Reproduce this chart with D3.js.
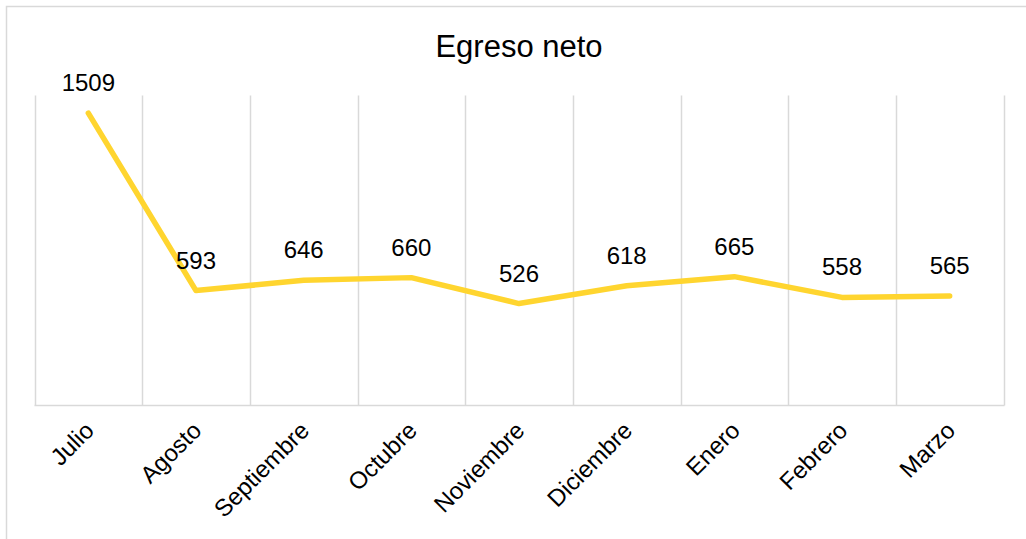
<!DOCTYPE html>
<html>
<head>
<meta charset="utf-8">
<script src="https://cdn.jsdelivr.net/npm/d3@7"></script>
<style>
	body { margin: 0; background: #ffffff; }
	text { font-family: "Liberation Sans", Arial, sans-serif; fill: #000000; }
</style>
</head>
<body>
<div></div>
<script>
const months = ["Julio", "Agosto", "Septiembre", "Octubre", "Noviembre", "Diciembre", "Enero", "Febrero", "Marzo"];
const egreso = [1509, 593, 646, 660, 526, 618, 665, 558, 565];
const title = "Egreso neto";

const width = 1026;
const height = 539;
const lineColor = "#ffd52f";
const gridColor = "#d9d9d9";

var svg = d3.select("div")
	.append("svg")
	.attr("width", width)
	.attr("height", height);

// chart frame, cut off at right and bottom like the original
svg.append("rect")
	.attr("x", 6.5)
	.attr("y", 6.5)
	.attr("width", 1030)
	.attr("height", 545)
	.style("fill", "none")
	.style("stroke", gridColor)
	.style("stroke-width", 1.5);

svg.append("text")
	.attr("x", 519)
	.attr("y", 57)
	.attr("text-anchor", "middle")
	.style("font-size", "31px")
	.text(title);

var x = d3.scaleBand()
	.domain(months)
	.range([34.5, 1003.5])
	.padding(0);

var y = d3.scaleLinear()
	.domain([0, 1600])
	.range([405.5, 95.5]);

// vertical grid lines on category edges
var edges = months.map(function (m) { return x(m); }).concat([x.range()[1]]);
svg.append("g")
	.attr("class", "grid")
	.selectAll("line")
	.data(edges)
	.enter()
	.append("line")
	.attr("x1", function (d) { return Math.round(d) + 0.5; })
	.attr("x2", function (d) { return Math.round(d) + 0.5; })
	.attr("y1", y(1600))
	.attr("y2", y(0))
	.style("stroke", gridColor)
	.style("stroke-width", 1.5);

// bottom axis line
svg.append("line")
	.attr("x1", x.range()[0])
	.attr("x2", x.range()[1] + 1)
	.attr("y1", y(0))
	.attr("y2", y(0))
	.style("stroke", gridColor)
	.style("stroke-width", 1.5);

// category labels
svg.append("g")
	.attr("class", "labels")
	.selectAll("text")
	.data(months)
	.enter()
	.append("text")
	.attr("transform", function (d) {
		return "translate(" + (x(d) + x.bandwidth() / 2 + 7) + ",432) rotate(-45)";
	})
	.attr("text-anchor", "end")
	.style("font-size", "24px")
	.text(function (d) { return d; });

var line = d3.line()
	.x(function (d, i) { return x(months[i]) + x.bandwidth() / 2; })
	.y(function (d) { return y(d); });

svg.append("path")
	.datum(egreso)
	.attr("d", line)
	.style("fill", "none")
	.style("stroke", lineColor)
	.style("stroke-width", 5.5)
	.style("stroke-linecap", "round")
	.style("stroke-linejoin", "round");

// data labels
svg.append("g")
	.attr("class", "values")
	.selectAll("text")
	.data(egreso)
	.enter()
	.append("text")
	.attr("x", function (d, i) { return x(months[i]) + x.bandwidth() / 2; })
	.attr("y", function (d) { return y(d) - 22; })
	.attr("text-anchor", "middle")
	.style("font-size", "24px")
	.text(function (d) { return d; });
</script>
</body>
</html>
